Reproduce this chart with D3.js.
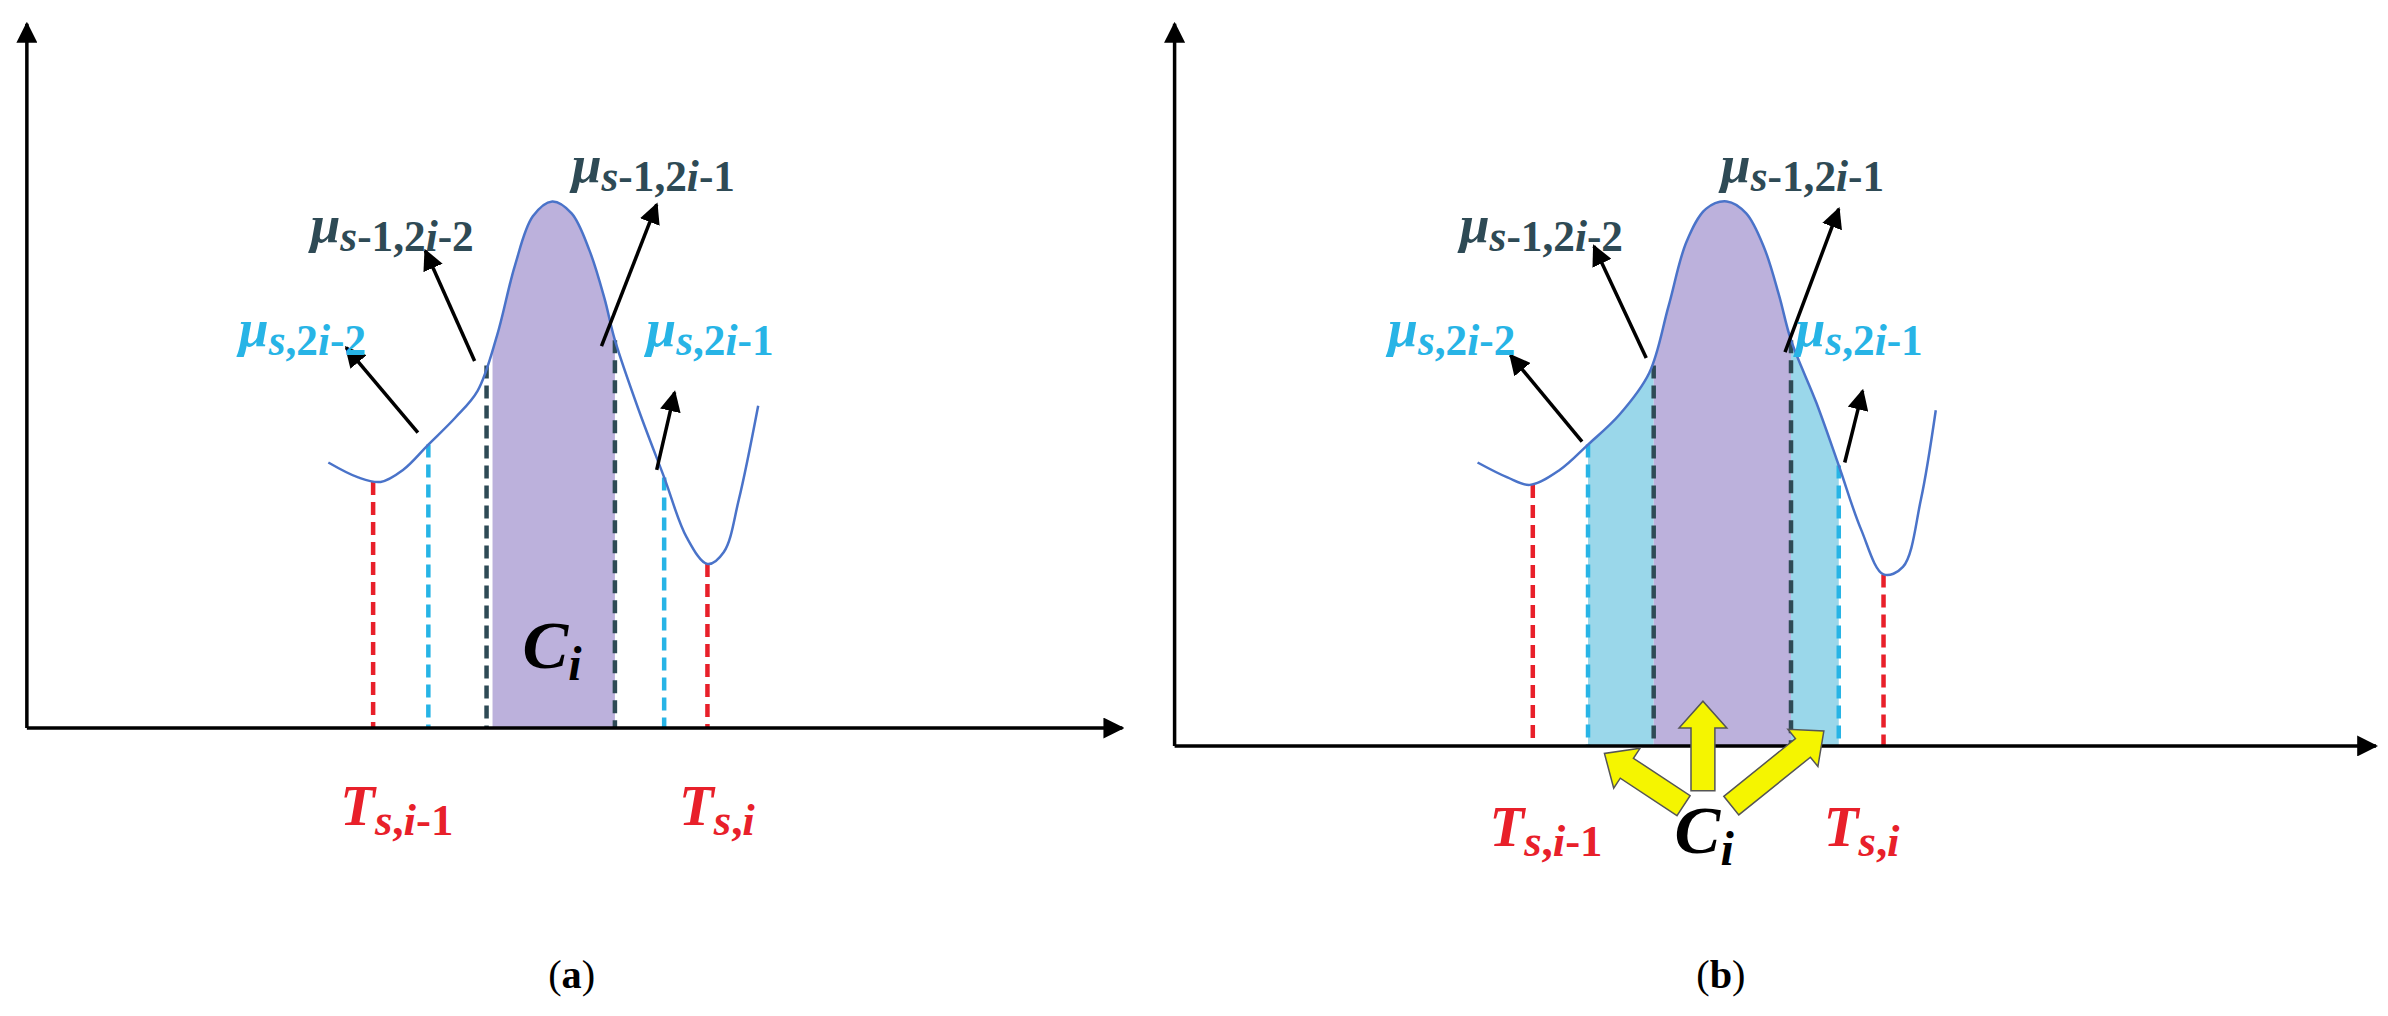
<!DOCTYPE html>
<html><head><meta charset="utf-8">
<script src="https://cdn.jsdelivr.net/npm/d3@7"></script>
<style>body{margin:0;background:#fff}</style></head>
<body><script>
// curve samples [x, y] in figure units (1600 x 681 frame)
var curveA = [[220,310],[240,320],[255,323],[270,315],[287,298],[305,280],[320,262],[333,225],[345,178],[357,145],[370,135],[383,143],[395,168],[405,200],[412,228],[428,275],[445,320],[460,360],[474,378],[485,370],[495,335],[508,272]];
var curveB = [[990,310],[1010,320],[1025,325],[1045,315],[1064,298],[1085,278],[1105,250],[1118,205],[1130,162],[1143,140],[1157,135],[1170,143],[1182,166],[1192,198],[1200,228],[1217,270],[1232,312],[1247,355],[1262,385],[1275,380],[1287,335],[1297,275]];
// dashed markers [x, top y, colour]
var markersA = [[250,323,"red"],[287,298,"cyan"],[326,245,"dark"],[412,228,"dark"],[445,320,"cyan"],[474,378,"red"]];
var markersB = [[1027,325,"red"],[1064,298,"cyan"],[1108,245,"dark"],[1200,228,"dark"],[1232,312,"cyan"],[1262,385,"red"]];
var fillsA = [[330,412,"purple"]];
var fillsB = [[1064,1108,"cyan"],[1108,1200,"purple"],[1200,1232,"cyan"]];
// label arrows [x1,y1,x2,y2]
var arrowsA = [[280,290,232,233],[318,242,285,168],[403,232,440,137],[440,315,452,263]];
var arrowsB = [[1060,296,1012,238],[1103,240,1068,165],[1196,236,1232,140],[1236,310,1248,262]];
var yellowArrows = [[1128,540,1075,505],[1141,530,1141,470],[1160,540,1222,490]];

var W = 2388, H = 1016;
var x = d3.scaleLinear().domain([0,1600]).range([0,W]);
var y = d3.scaleLinear().domain([0,681]).range([0,H]);
var k = W/1600;
var col = {red:"#e8202a", cyan:"#27b4e6", dark:"#2e4a55", purple:"#b5a8d8", cyanFill:"#8fd3e8"};

var svg = d3.select("body").append("svg").attr("width",W).attr("height",H);
var defs = svg.append("defs");
defs.append("marker").attr("id","ah").attr("viewBox","0 0 10 10").attr("refX",9).attr("refY",5)
  .attr("markerWidth",6).attr("markerHeight",6).attr("orient","auto")
  .append("path").attr("d","M0,0L10,5L0,10z").attr("fill","#000");

var line = d3.line().x(d=>x(d[0])).y(d=>y(d[1])).curve(d3.curveCatmullRom);

function panel(id, ox, axisY, xEnd, curve, markers, fills, arrows){
  // fills clipped to the area under the curve
  fills.forEach(function(f,i){
    var cid = "clip"+id+i;
    defs.append("clipPath").attr("id",cid).append("rect")
      .attr("x",x(f[0])).attr("width",x(f[1])-x(f[0])).attr("y",0).attr("height",H);
    var area = d3.area().x(d=>x(d[0])).y0(y(axisY)).y1(d=>y(d[1])).curve(d3.curveCatmullRom);
    svg.append("path").datum(curve).attr("d",area).attr("clip-path","url(#"+cid+")")
      .attr("fill", f[2]=="purple" ? col.purple : col.cyanFill).attr("opacity",0.9);
  });
  markers.forEach(function(m){
    svg.append("line").attr("x1",x(m[0])).attr("x2",x(m[0])).attr("y1",y(m[1])).attr("y2",y(axisY))
      .attr("stroke", m[2]=="red"?col.red:m[2]=="cyan"?col.cyan:col.dark)
      .attr("stroke-width",4.5).attr("stroke-dasharray","13,7");
  });
  svg.append("path").datum(curve).attr("d",line).attr("fill","none").attr("stroke","#4a73c9").attr("stroke-width",2.5);
  // axes
  svg.append("line").attr("x1",x(ox)).attr("x2",x(ox)).attr("y1",y(axisY)).attr("y2",y(16))
    .attr("stroke","#000").attr("stroke-width",3.5).attr("marker-end","url(#ah)");
  svg.append("line").attr("x1",x(ox)).attr("x2",x(xEnd)).attr("y1",y(axisY)).attr("y2",y(axisY))
    .attr("stroke","#000").attr("stroke-width",3.5).attr("marker-end","url(#ah)");
  arrows.forEach(function(a){
    svg.append("line").attr("x1",x(a[0])).attr("y1",y(a[1])).attr("x2",x(a[2])).attr("y2",y(a[3]))
      .attr("stroke","#000").attr("stroke-width",3.5).attr("marker-end","url(#ah)");
  });
}
panel("a",18,488,752,curveA,markersA,fillsA,arrowsA);
panel("b",787,500,1592,curveB,markersB,fillsB,arrowsB);

// yellow block arrows
yellowArrows.forEach(function(a){
  var dx = x(a[2])-x(a[0]), dy = y(a[3])-y(a[1]), L = Math.sqrt(dx*dx+dy*dy);
  var ang = Math.atan2(dy,dx)*180/Math.PI, w = 8*k, hw = 16*k, hl = 18*k;
  var p = [[0,-w],[L-hl,-w],[L-hl,-hw],[L,0],[L-hl,hw],[L-hl,w],[0,w]];
  svg.append("path").attr("d","M"+p.join("L")+"Z")
    .attr("transform","translate("+x(a[0])+","+y(a[1])+") rotate("+ang+")")
    .attr("fill","#f5f500").attr("stroke","#555").attr("stroke-width",1.5);
});

// labels
var font = "'Liberation Serif', 'DejaVu Serif', serif";
function mu(px, py, sub, c){
  var t = svg.append("text").attr("x",x(px)).attr("y",y(py)).attr("fill",c)
    .attr("font-family",font).attr("font-weight","bold").attr("font-style","italic").attr("font-size",36*k);
  t.append("tspan").text("μ");
  var s = t.append("tspan").attr("dy",6*k).attr("font-size",29*k);
  sub.forEach(function(p){ s.append("tspan").attr("font-style",p[1]?"italic":"normal").text(p[0]); });
}
function labels(off){
  mu(160+off,232,[["s",1],[",2",0],["i",1],["-2",0]],col.cyan);
  mu(208+off,162,[["s",1],["-1,2",0],["i",1],["-2",0]],col.dark);
  mu(383+off,122,[["s",1],["-1,2",0],["i",1],["-1",0]],col.dark);
  mu(433+off,232,[["s",1],[",2",0],["i",1],["-1",0]],col.cyan);
}
labels(0); labels(770);
function tlab(px,py,parts){
  var t = svg.append("text").attr("x",x(px)).attr("y",y(py)).attr("fill",col.red)
    .attr("font-family",font).attr("font-weight","bold").attr("font-style","italic").attr("font-size",38*k);
  t.append("tspan").text("T");
  var s = t.append("tspan").attr("dy",7*k).attr("font-size",30*k);
  parts.forEach(function(p){ s.append("tspan").attr("font-style",p[1]?"italic":"normal").text(p[0]); });
}
tlab(228,553,[["s",1],[",",0],["i",1],["-1",0]]);
tlab(455,553,[["s",1],[",",0],["i",1]]);
tlab(998,567,[["s",1],[",",0],["i",1],["-1",0]]);
tlab(1222,567,[["s",1],[",",0],["i",1]]);
function clab(px,py){
  var t = svg.append("text").attr("x",x(px)).attr("y",y(py)).attr("fill","#000")
    .attr("font-family",font).attr("font-weight","bold").attr("font-style","italic").attr("font-size",46*k);
  t.append("tspan").text("C");
  t.append("tspan").attr("dy",8*k).attr("font-size",32*k).text("i");
}
clab(350,448); clab(1122,572);
[["(a)",383],["(b)",1153]].forEach(function(c){
  var t = svg.append("text").attr("x",x(c[1])).attr("y",y(662)).attr("text-anchor","middle")
    .attr("font-family",font).attr("font-size",27*k);
  t.append("tspan").text("(");
  t.append("tspan").attr("font-weight","bold").text(c[0][1]);
  t.append("tspan").text(")");
});
</script></body></html>
